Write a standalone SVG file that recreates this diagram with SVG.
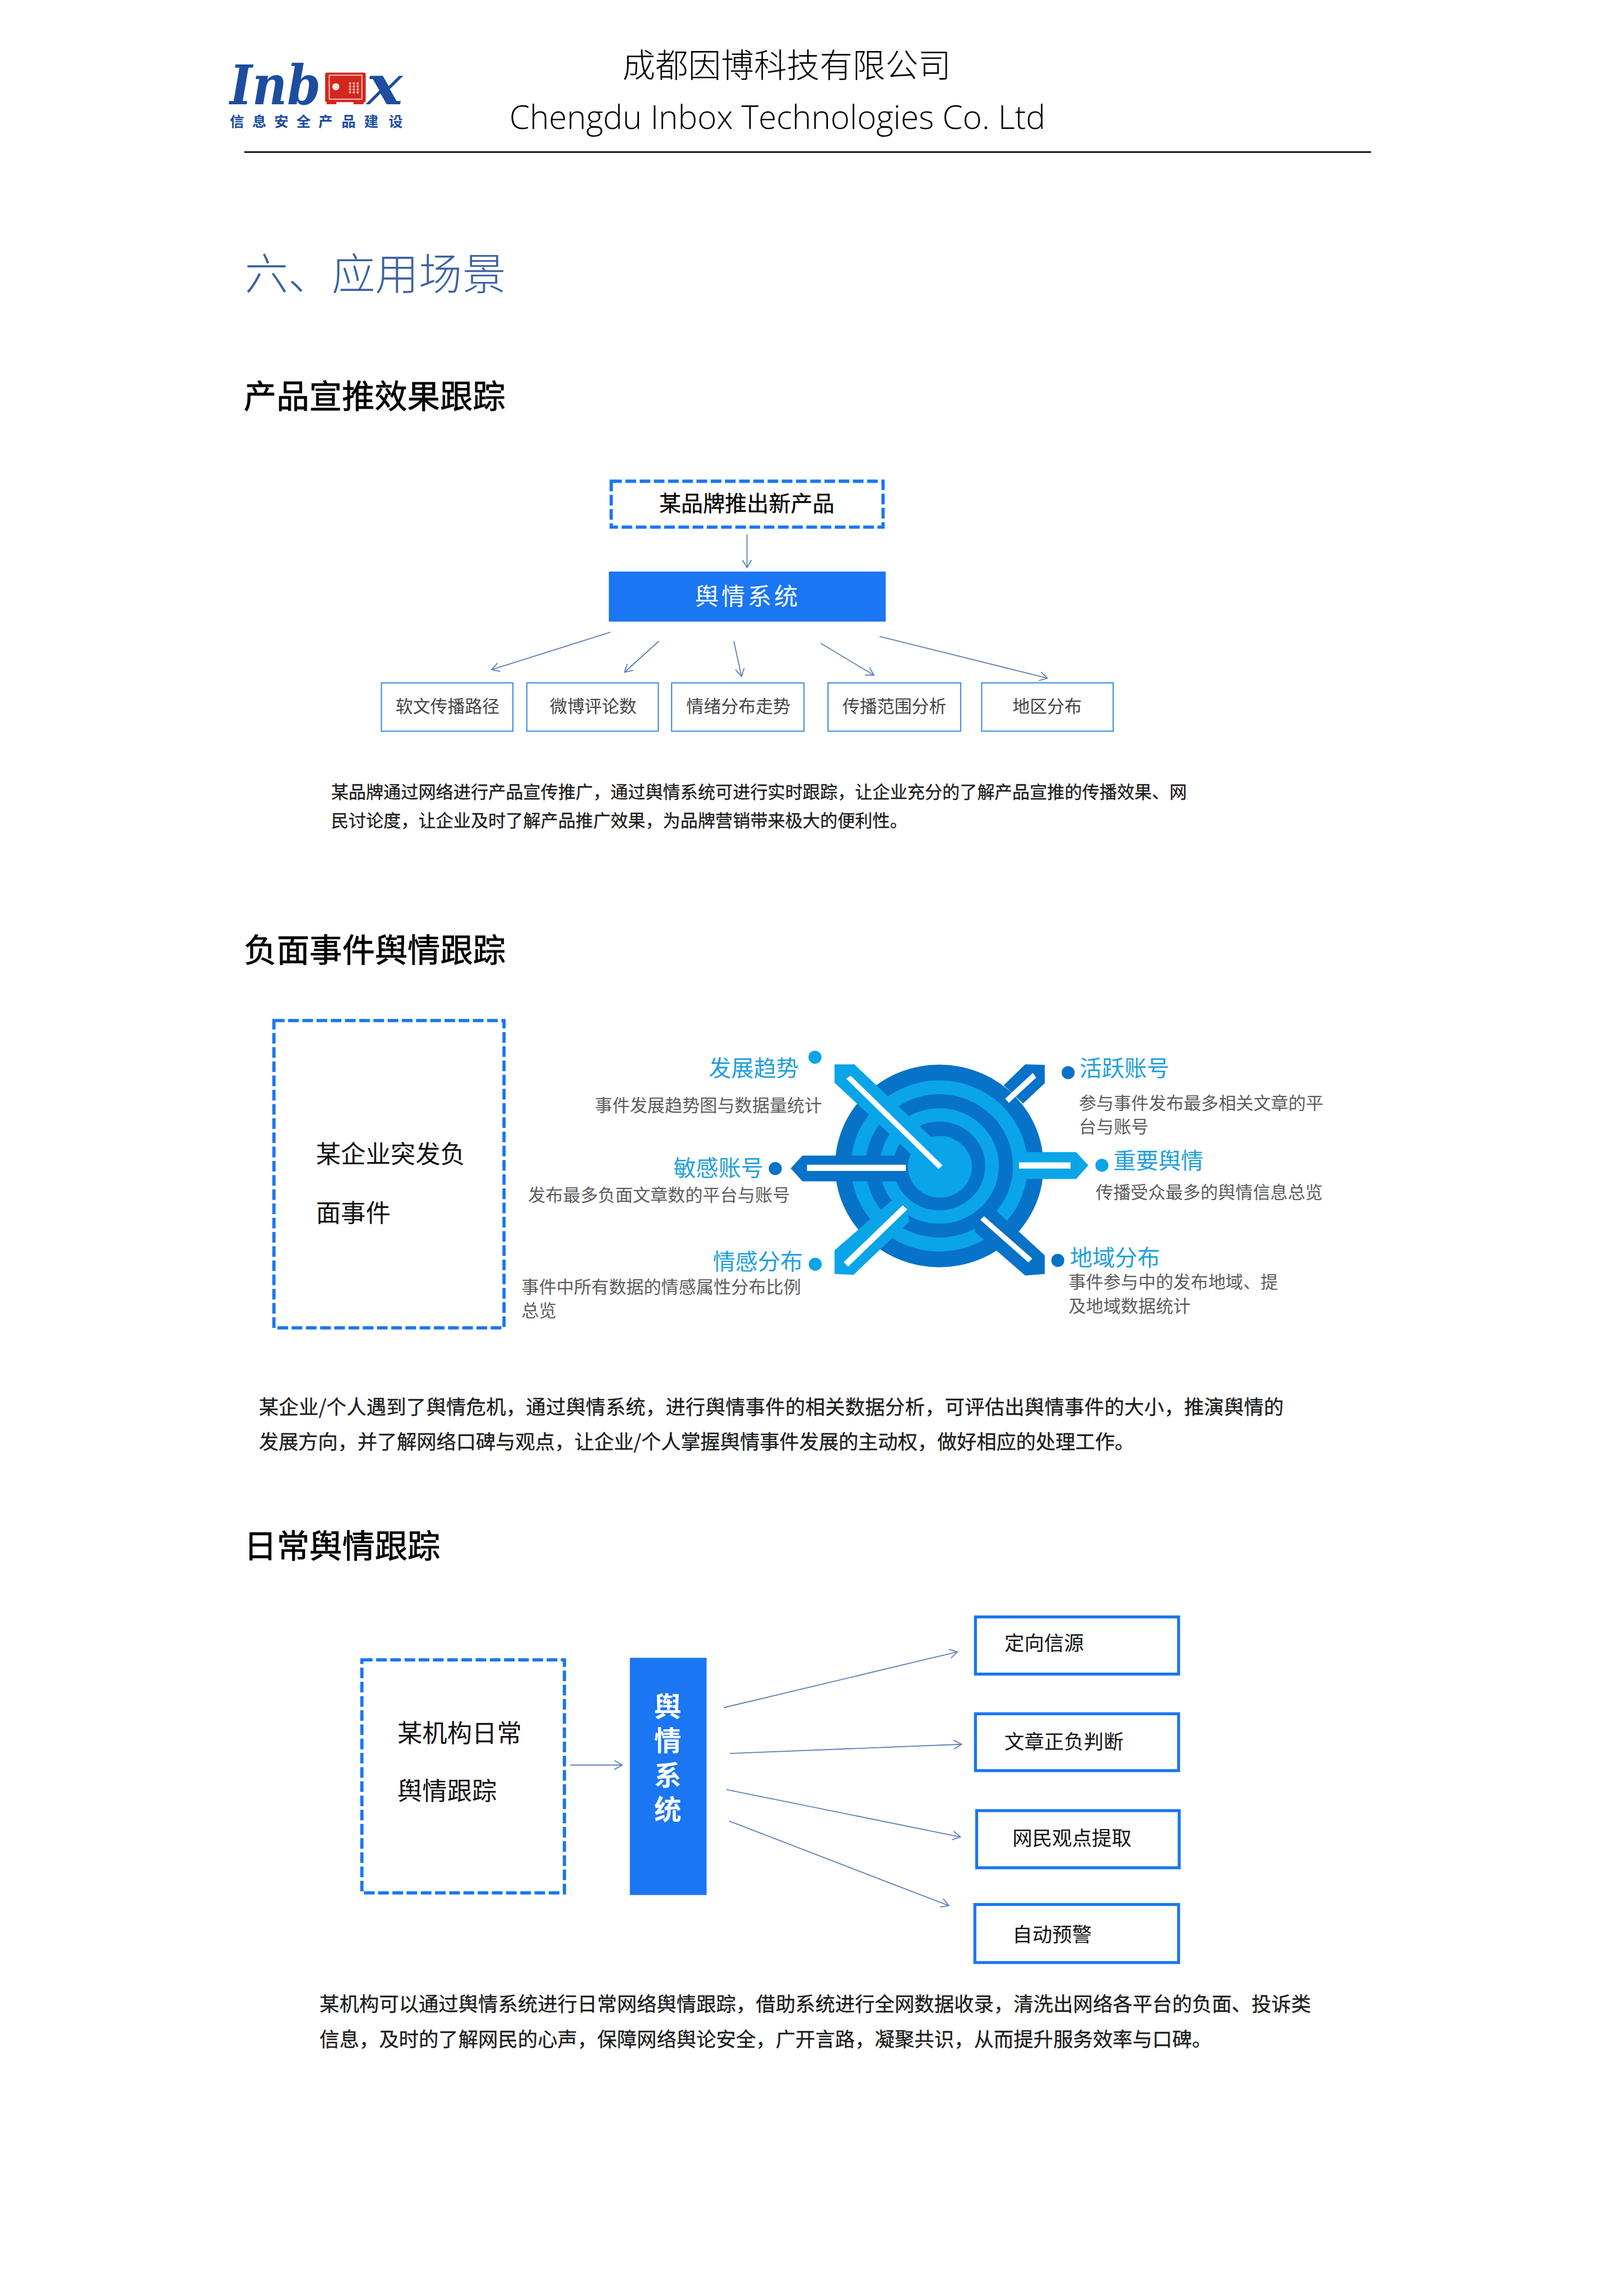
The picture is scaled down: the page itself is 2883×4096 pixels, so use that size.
<svg xmlns="http://www.w3.org/2000/svg" width="2883" height="4096" viewBox="0 0 2883 4096">
<style>
text{font-family:"Noto Sans CJK SC","Noto Sans",sans-serif;fill:#000}
.h1{font-size:111px;font-weight:300}
.en{font-family:"Open Sans","Noto Sans",sans-serif;font-size:112px;font-weight:300}
.h2{font-size:110.5px;stroke:#000;stroke-width:1.5px}
.sec{font-size:147px;fill:#3d62a3;font-weight:300}
.para{font-size:59px;fill:#1c1c1c;stroke:#1c1c1c;stroke-width:.6px}
.para2{font-size:67px;fill:#1c1c1c;stroke:#1c1c1c;stroke-width:.6px}
.box84{font-size:84px;fill:#111}
.small{font-size:58.5px;fill:#444}
.lab67{font-size:67px;fill:#111}
.ttl{font-size:76px;fill:#1f9fdc}
.dsc{font-size:59px;fill:#5c5c5c}
.white{fill:#fff;font-weight:700}
.dash{fill:none;stroke:#1a76f2;stroke-width:11;stroke-dasharray:36 12}
.fill{fill:#1a76f2}
.thin{fill:#fff;stroke:#3d8fdc;stroke-width:4}
.thick{fill:#fff;stroke:#1a76f2;stroke-width:10}
.conn{fill:none;stroke:#5f80b8;stroke-width:3.5;marker-end:url(#arr)}
.d{fill:#0672c8}.l{fill:#0aa5e8}.w{fill:#fff}
.logo{font-family:"DejaVu Serif",serif;font-weight:700;font-style:italic;font-size:185px;fill:#1c4d9f}
.logoc{font-size:48px;font-weight:700;fill:#1c4d9f}
</style>
<defs>
<marker id="arr" markerUnits="userSpaceOnUse" viewBox="0 0 40 40" markerWidth="40" markerHeight="40" refX="34" refY="20" orient="auto">
<path d="M8 5L34 20L8 35" fill="none" stroke="#5f80b8" stroke-width="3.5"/>
</marker>
</defs>
<rect width="2883" height="4096" fill="#fff"/>
<g transform="scale(0.52831)">
<g id="header">
<g id="logo">
<text class="logo" x="776" y="353" textLength="307" lengthAdjust="spacingAndGlyphs">Inb</text>
<g id="safe">
<rect x="1098" y="245" width="137" height="100" rx="6" fill="#d3261f"/>
<rect x="1103" y="340" width="33" height="12" fill="#d3261f"/>
<rect x="1194" y="340" width="34" height="12" fill="#d3261f"/>
<rect x="1112" y="254" width="110" height="81" fill="none" stroke="#f3bdb0" stroke-width="4"/>
<circle cx="1134" cy="293" r="12" fill="#fbe9df"/>
<g fill="#f5c3b5">
<circle cx="1182" cy="282" r="4"/><circle cx="1195" cy="282" r="4"/><circle cx="1208" cy="282" r="4"/>
<circle cx="1182" cy="292" r="4"/><circle cx="1195" cy="292" r="4"/><circle cx="1208" cy="292" r="4"/>
<circle cx="1182" cy="302" r="4"/><circle cx="1195" cy="302" r="4"/><circle cx="1208" cy="302" r="4"/>
<circle cx="1182" cy="312" r="4"/><circle cx="1195" cy="312" r="4"/><circle cx="1208" cy="312" r="4"/>
</g>
</g>
<text class="logo" x="1238" y="353" textLength="122" lengthAdjust="spacingAndGlyphs">x</text>
<text class="logoc" x="776 852 926 1001 1075 1153 1230 1312" y="427">信息安全产品建设</text>
</g>
<text class="h1" x="2102" y="262">成都因博科技有限公司</text>
<text class="en" x="1720" y="436" textLength="1810" lengthAdjust="spacingAndGlyphs">Chengdu Inbox Technologies Co. Ltd</text>
<rect x="825" y="511" width="3805" height="5" fill="#000"/>
</g>
<text class="sec" x="826" y="978">六、应用场景</text>
<text class="h2" x="823" y="1378">产品宣推效果跟踪</text>
<text class="h2" x="824" y="3248">负面事件舆情跟踪</text>
<text class="h2" x="824" y="5261">日常舆情跟踪</text>

<g id="connectors">
<path class="conn" d="M2522.5 1805V1917"/>
<path class="conn" d="M2061 2135L1660 2261"/>
<path class="conn" d="M2225 2165L2109 2270"/>
<path class="conn" d="M2478 2165L2504 2284"/>
<path class="conn" d="M2771 2172L2951 2280"/>
<path class="conn" d="M2970 2149L3537 2290"/>
<path class="conn" d="M1926 5960H2101"/>
<path class="conn" d="M2445 5766L3233 5578"/>
<path class="conn" d="M2464 5921L3247 5890"/>
<path class="conn" d="M2453 6043L3243 6203"/>
<path class="conn" d="M2462 6149L3204 6435"/>
</g>

<g id="n-brand"><rect class="dash" x="2064" y="1625" width="918" height="155"/><text class="para" style="font-size:74px;fill:#000;stroke:#000" x="2226" y="1727">某品牌推出新产品</text></g>
<g id="n-system1"><rect class="fill" x="2056" y="1930" width="935" height="169"/><text class="white" style="font-weight:400;font-size:80px;letter-spacing:9px" x="2347" y="2042">舆情系统</text></g>
<g id="n-a1"><rect class="thin" x="1288" y="2306" width="444" height="163"/><text class="small" x="1336" y="2406">软文传播路径</text></g>
<g id="n-a2"><rect class="thin" x="1779" y="2306" width="444" height="163"/><text class="small" x="1857" y="2406">微博评论数</text></g>
<g id="n-a3"><rect class="thin" x="2268" y="2306" width="447" height="163"/><text class="small" x="2318" y="2406">情绪分布走势</text></g>
<g id="n-a4"><rect class="thin" x="2796" y="2306" width="448" height="163"/><text class="small" x="2845" y="2406">传播范围分析</text></g>
<g id="n-a5"><rect class="thin" x="3315" y="2306" width="444" height="163"/><text class="small" x="3419" y="2406">地区分布</text></g>
<text class="para" x="1118" y="2695">某品牌通过网络进行产品宣传推广，通过舆情系统可进行实时跟踪，让企业充分的了解产品宣推的传播效果、网</text>
<text class="para" x="1118" y="2791">民讨论度，让企业及时了解产品推广效果，为品牌营销带来极大的便利性。</text>

<g id="n-event"><rect class="dash" x="925" y="3446" width="777" height="1038"/><text class="box84" x="1067" y="3928">某企业突发负</text><text class="box84" x="1067" y="4126">面事件</text></g>

<g id="target">
<ellipse class="d" cx="3172" cy="3937" rx="352" ry="342"/>
<ellipse class="l" cx="3172" cy="3937" rx="298" ry="289"/>
<ellipse class="d" cx="3172" cy="3937" rx="249" ry="242"/>
<ellipse class="l" cx="3172" cy="3937" rx="201" ry="195"/>
<ellipse class="d" cx="3172" cy="3937" rx="155" ry="150"/>
<polygon class="d" points="2670,3945 2710,3902 3072,3902 3072,3989 2710,3989"/>
<polygon class="l" points="3420,3890 3634,3890 3675,3935 3634,3981 3420,3981"/>
<polygon class="d" points="3462,3594 3528,3596 3528,3658 3455,3726 3389,3665"/>
<polygon class="d" points="3528,4239 3528,4302 3462,4307 3290,4158 3310,4090 3360,4085"/>
<polygon class="l" points="2818,4222 2818,4302 2882,4305 3070,4126 3060,4060 3010,4055"/>
<polygon class="l" points="2818,3594 2885,3594 3170,3865 3120,3938 2818,3656"/>
<ellipse class="l" cx="3174" cy="3940" rx="108" ry="104"/>
<polygon class="w" points="2857,3642 2873,3633 3183,3935 3169,3947"/>
<polygon class="w" points="3488,3623 3499,3639 3407,3724 3394,3710"/>
<polygon class="w" points="3323,4107 3310,4119 3473,4263 3486,4250"/>
<polygon class="w" points="2849,4262 2864,4277 3064,4084 3048,4070"/>
<rect class="w" x="2725" y="3933" width="334" height="21"/>
<rect class="w" x="3441" y="3925" width="174" height="21"/>
</g>
<g id="n-trend"><circle class="l" cx="2752" cy="3570" r="22"/><text class="ttl" x="2393" y="3635">发展趋势</text><text class="dsc" x="2009" y="3754">事件发展趋势图与数据量统计</text></g>
<g id="n-sensitive"><circle class="d" cx="2618" cy="3946" r="22"/><text class="ttl" x="2274" y="3972">敏感账号</text><text class="dsc" x="1783" y="4057">发布最多负面文章数的平台与账号</text></g>
<g id="n-emotion"><circle class="l" cx="2753" cy="4269" r="22"/><text class="ttl" x="2407" y="4288">情感分布</text><text class="dsc" x="1761" y="4366">事件中所有数据的情感属性分布比例</text><text class="dsc" x="1761" y="4447">总览</text></g>
<g id="n-active"><circle class="d" cx="3607" cy="3622" r="22"/><text class="ttl" x="3645" y="3635">活跃账号</text><text class="dsc" x="3643" y="3745">参与事件发布最多相关文章的平</text><text class="dsc" x="3643" y="3826">台与账号</text></g>
<g id="n-important"><circle class="l" cx="3721" cy="3935" r="22"/><text class="ttl" x="3760" y="3947">重要舆情</text><text class="dsc" x="3700" y="4046">传播受众最多的舆情信息总览</text></g>
<g id="n-region"><circle class="d" cx="3572" cy="4256" r="22"/><text class="ttl" x="3613" y="4274">地域分布</text><text class="dsc" x="3608" y="4350">事件参与中的发布地域、提</text><text class="dsc" x="3608" y="4432">及地域数据统计</text></g>
<text class="para2" x="874" y="4775" textLength="3461">某企业/个人遇到了舆情危机，通过舆情系统，进行舆情事件的相关数据分析，可评估出舆情事件的大小，推演舆情的</text>
<text class="para2" x="874" y="4893" textLength="2957">发展方向，并了解网络口碑与观点，让企业/个人掌握舆情事件发展的主动权，做好相应的处理工作。</text>

<g id="n-org"><rect class="dash" x="1222" y="5605" width="684" height="787"/><text class="box84" x="1342" y="5882">某机构日常</text><text class="box84" x="1342" y="6078">舆情跟踪</text></g>
<g id="n-system2"><rect class="fill" x="2127" y="5598" width="259" height="801"/>
<text class="white" style="font-size:92px" x="2209 2209 2209 2209" y="5795 5911 6028 6145">舆情系统</text></g>
<g id="n-b1"><rect class="thick" x="3294" y="5460" width="686" height="193"/><text class="lab67" x="3392" y="5573">定向信源</text></g>
<g id="n-b2"><rect class="thick" x="3294" y="5787" width="686" height="192"/><text class="lab67" x="3392" y="5905">文章正负判断</text></g>
<g id="n-b3"><rect class="thick" x="3298" y="6114" width="684" height="193"/><text class="lab67" x="3419" y="6232">网民观点提取</text></g>
<g id="n-b4"><rect class="thick" x="3292" y="6431" width="688" height="196"/><text class="lab67" x="3419" y="6557">自动预警</text></g>
<text class="para2" x="1079" y="6792">某机构可以通过舆情系统进行日常网络舆情跟踪，借助系统进行全网数据收录，清洗出网络各平台的负面、投诉类</text>
<text class="para2" x="1079" y="6910">信息，及时的了解网民的心声，保障网络舆论安全，广开言路，凝聚共识，从而提升服务效率与口碑。</text>
</g>
</svg>
